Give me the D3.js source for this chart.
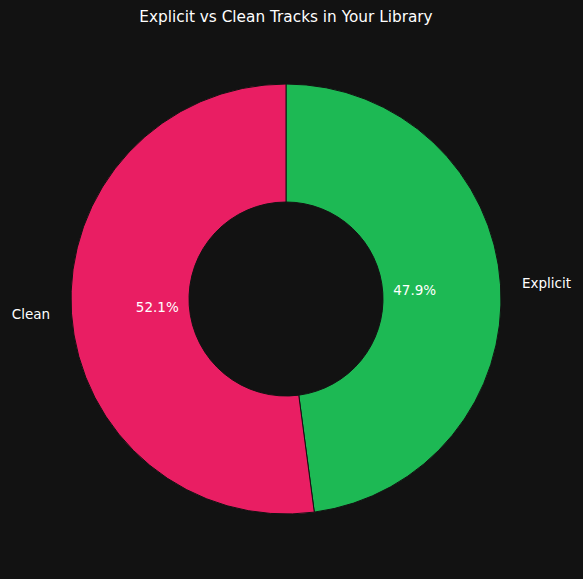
<!DOCTYPE html>
<html>
<head>
<meta charset="utf-8">
<script src="https://cdn.jsdelivr.net/npm/d3@7"></script>
<style>
  html, body { margin: 0; padding: 0; background: #121212; }
  svg { display: block; }
</style>
</head>
<body>
<div id="chart"></div>
<script>
// datos del gráfico
var categories = ["Explicit", "Clean"];
var shares = [47.9, 52.1];
var colors = ["#1DB954", "#E91E63"];
var title = "Explicit vs Clean Tracks in Your Library";

var width = 583, height = 579;
var cx = 286, cy = 299;
var outerR = 215, innerR = 97;

var svg = d3.select("#chart").append("svg")
    .attr("width", width)
    .attr("height", height)
    .style("font-family", "'DejaVu Sans', sans-serif");

svg.append("rect")
    .attr("width", width)
    .attr("height", height)
    .attr("fill", "#121212");

svg.append("text")
    .attr("x", cx)
    .attr("y", 22)
    .attr("text-anchor", "middle")
    .attr("fill", "#ffffff")
    .style("font-size", "15.3px")
    .text(title);

var data = categories.map((c, i) => ({ name: c, value: shares[i], color: colors[i] }));

// empieza arriba y va en sentido horario
var pie = d3.pie()
    .value(d => d.value)
    .sort(null)
    .startAngle(0)
    .endAngle(2 * Math.PI);

var arcs = pie(data);

var arc = d3.arc()
    .innerRadius(innerR)
    .outerRadius(outerR);

var g = svg.append("g").attr("transform", "translate(" + cx + "," + cy + ")");

g.selectAll("path")
    .data(arcs)
    .enter()
    .append("path")
        .attr("d", arc)
        .attr("fill", d => d.data.color)
        .attr("stroke", "#121212")
        .attr("stroke-width", 1);

// etiquetas de categoría a 1.1 del radio
var labelArc = d3.arc().innerRadius(outerR * 1.1).outerRadius(outerR * 1.1);
g.selectAll("text.label")
    .data(arcs)
    .enter()
    .append("text")
        .attr("class", "label")
        .attr("x", d => labelArc.centroid(d)[0])
        .attr("y", d => labelArc.centroid(d)[1])
        .attr("dy", "0.35em")
        .attr("text-anchor", d => labelArc.centroid(d)[0] > 0 ? "start" : "end")
        .attr("fill", "#ffffff")
        .style("font-size", "13.5px")
        .text(d => d.data.name);

// porcentajes a 0.6 del radio
var pctArc = d3.arc().innerRadius(outerR * 0.6).outerRadius(outerR * 0.6);
g.selectAll("text.pct")
    .data(arcs)
    .enter()
    .append("text")
        .attr("class", "pct")
        .attr("x", d => pctArc.centroid(d)[0])
        .attr("y", d => pctArc.centroid(d)[1])
        .attr("dy", "0.35em")
        .attr("text-anchor", "middle")
        .attr("fill", "#ffffff")
        .style("font-size", "13.5px")
        .text(d => d.data.value.toFixed(1) + "%");
</script>
</body>
</html>
